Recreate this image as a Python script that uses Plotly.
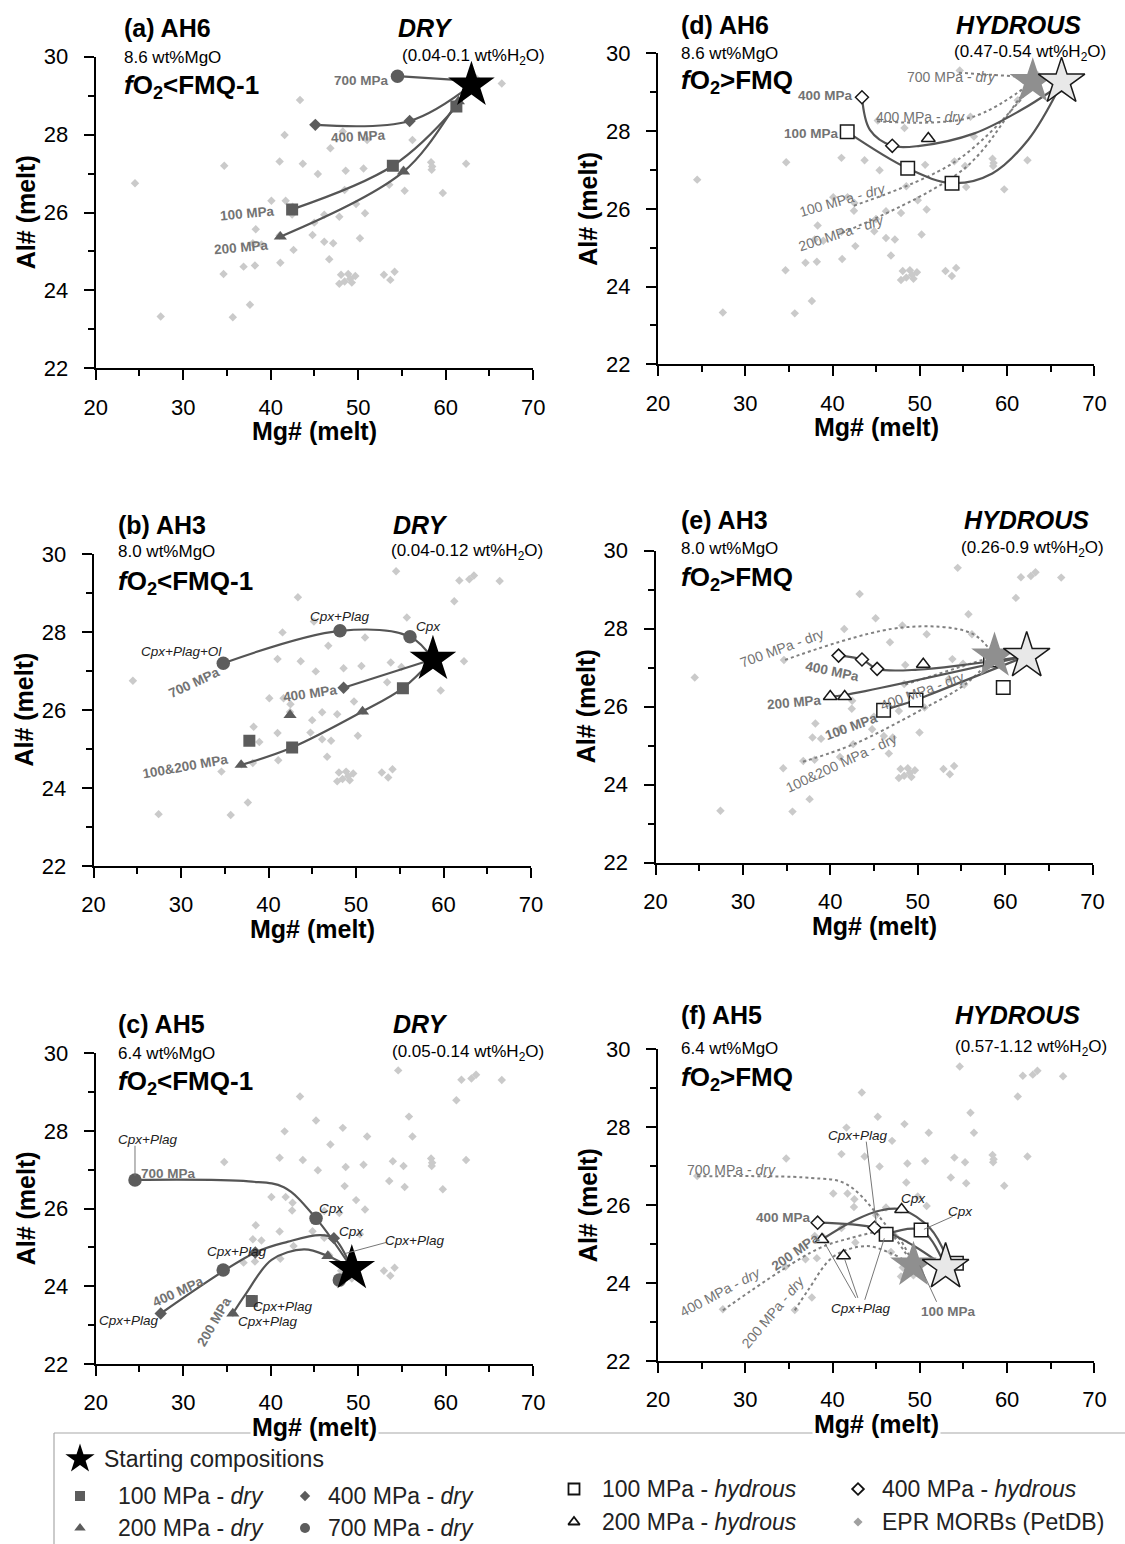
import plotly.graph_objects as go

W, H = 1125, 1544
FONT = "Liberation Sans, Arial, Helvetica, sans-serif"

# ---------------- data ----------------
MORB_X = [24.49, 27.43, 34.69, 34.61, 35.67, 36.90, 37.63, 38.20, 38.29, 37.96, 38.94, 40.08, 41.02, 41.59,
          41.71, 42.45, 42.50, 41.02, 42.61, 41.10, 43.35, 43.67, 45.18, 45.39, 44.98, 44.78, 46.12, 46.12,
          47.14, 46.69, 46.82, 48.24, 48.57, 48.45, 47.84, 49.76, 50.78, 50.20, 50.61, 51.02, 48.04, 48.86,
          49.67, 48.45, 49.27, 47.84, 49.10, 52.94, 53.67, 54.16, 53.55, 53.96, 55.31, 55.18, 56.20, 55.80,
          58.33, 58.45, 58.40, 59.67, 62.33, 61.22, 61.80, 62.94, 63.47, 66.41, 54.57]
MORB_Y = [26.75, 23.33, 27.20, 24.42, 23.31, 24.61, 23.63, 24.64, 25.57, 25.21, 25.18, 26.30, 27.31, 27.99,
          26.30, 25.95, 26.15, 25.41, 25.04, 24.71, 28.89, 27.25, 28.27, 26.99, 25.74, 25.42, 25.94, 25.25,
          25.21, 24.80, 27.65, 28.08, 27.07, 26.58, 25.89, 26.22, 25.98, 25.34, 27.13, 27.86, 24.40, 24.42,
          24.37, 24.23, 24.20, 24.17, 24.30, 24.40, 24.27, 24.48, 26.71, 27.22, 26.56, 27.10, 27.86, 28.37,
          27.29, 27.18, 27.10, 26.50, 27.25, 28.79, 29.32, 29.35, 29.45, 29.31, 29.56]

# starting compositions
AH6_DRY_STAR = [62.94, 29.27]
AH3_DRY_STAR = [58.78, 27.30]
AH5_DRY_STAR = [49.27, 24.46]
AH6_HYD_STAR = [66.24, 29.27]
AH3_HYD_STAR = [62.46, 27.30]
AH5_HYD_STAR = [52.95, 24.41]

# (a) AH6 dry
A100_X = [42.45, 53.96, 61.22]; A100_Y = [26.08, 27.20, 28.72]
A200_X = [41.10, 55.18, 61.45]; A200_Y = [25.38, 27.05, 28.85]
A400_X = [45.10, 55.88];        A400_Y = [28.25, 28.35]
A700_X = [54.49];               A700_Y = [29.50]
A_CURVES = [
    ([42.45, 53.96, 61.22, 62.94], [26.08, 27.20, 28.72, 29.27]),
    ([41.10, 55.18, 61.45, 62.94], [25.38, 27.05, 28.85, 29.27]),
    ([45.10, 55.88, 62.94], [28.25, 28.35, 29.27]),
    ([54.49, 62.94], [29.50, 29.38]),
]

# (b) AH3 dry
B100_X = [37.80, 42.69, 55.35]; B100_Y = [25.21, 25.04, 26.56]
B200_X = [36.86, 42.45, 50.73]; B200_Y = [24.59, 25.87, 25.96]
B400_X = [48.57];               B400_Y = [26.57]
B700_X = [34.82, 48.16, 56.16]; B700_Y = [27.20, 28.03, 27.88]
B_CURVES = [
    ([34.82, 48.16, 56.16, 58.78], [27.20, 28.03, 27.88, 27.30]),
    ([48.57, 58.78], [26.57, 27.30]),
    ([36.86, 42.69, 50.73, 55.35, 58.78], [24.59, 25.04, 25.96, 26.56, 27.30]),
]

# (c) AH5 dry
C100_X = [37.84];                      C100_Y = [23.62]
C200_X = [35.67, 46.53];               C200_Y = [23.30, 24.78]
C400_X = [27.43, 38.24, 47.22];        C400_Y = [23.30, 24.87, 25.24]
C700_X = [24.49, 45.18, 34.57, 47.84]; C700_Y = [26.74, 25.75, 24.42, 24.16]
C_CURVES = [
    ([24.49, 37.5, 41.5, 45.18, 49.27], [26.74, 26.70, 26.55, 25.75, 24.46]),
    ([27.43, 38.24, 42.0, 45.6, 47.22, 49.27], [23.30, 24.87, 25.15, 25.32, 25.24, 24.46]),
    ([35.67, 37.2, 40.1, 43.8, 46.53, 49.27], [23.30, 23.82, 24.68, 24.95, 24.78, 24.46]),
]

# (d) AH6 hydrous
D100_X = [41.68, 48.61, 53.69]; D100_Y = [27.98, 27.04, 26.66]
D200_X = [50.97];               D200_Y = [27.81]
D400_X = [43.37, 46.84];        D400_Y = [28.87, 27.62]
D_CURVES = [
    ([43.37, 44.28, 46.84, 50.0, 56.25, 61.6, 65.2], [28.87, 28.03, 27.62, 27.62, 27.94, 28.54, 29.05]),
    ([41.68, 48.61, 53.69, 58.3, 62.4, 65.95], [27.98, 27.04, 26.66, 26.91, 27.77, 29.10]),
]

# (e) AH3 hydrous
E100_X = [46.09, 49.80, 58.33, 59.78]; E100_Y = [25.91, 26.17, 27.20, 26.49]
E200_X = [39.99, 41.64, 50.63];        E200_Y = [26.26, 26.26, 27.09]
E400_X = [40.94, 43.62, 45.35];        E400_Y = [27.31, 27.21, 26.97]
E_CURVES = [
    ([40.94, 43.62, 45.35, 50.0, 62.46], [27.31, 27.21, 26.97, 26.95, 27.30]),
    ([39.99, 41.64, 62.46], [26.26, 26.30, 27.30]),
    ([46.09, 49.80, 52.15, 62.46], [25.91, 26.17, 26.38, 27.30]),
]

# (f) AH5 hydrous
F100_X = [46.14, 50.14, 54.19]; F100_Y = [25.25, 25.36, 24.51]
F200_X = [38.79, 47.91, 41.26]; F200_Y = [25.12, 25.89, 24.70]
F400_X = [38.29, 44.81];        F400_Y = [25.55, 25.42]
F_CURVES = [
    ([38.29, 44.81, 48.6, 52.95], [25.55, 25.42, 25.05, 24.41]),
    ([38.79, 42.6, 45.6, 47.91, 51.2, 53.0], [25.12, 25.62, 25.87, 25.89, 25.40, 24.70]),
    ([46.14, 50.14, 52.95], [25.25, 25.36, 24.41]),
]

X_TICKS = [20, 30, 40, 50, 60, 70]
Y_TICKS = [22, 24, 26, 28, 30]

# ---------------- styles ----------------
DARK = "#5c5c5c"
LINE = "#555555"
DOT = "#808080"
LBL = "#737373"
MORB_C = "#cacaca"

# pixel boxes: left, right, top, bottom
BOX = {
    1: (95.7, 533.2, 56.7, 368.3),
    2: (93.6, 531.1, 554.0, 866.0),
    3: (95.7, 533.2, 1053.3, 1364.0),
    4: (658.0, 1094.4, 53.3, 364.3),
    5: (655.5, 1092.6, 550.7, 862.7),
    6: (658.0, 1094.4, 1049.3, 1361.0),
}

fig = go.Figure()
ANN = []
SHAPES = []


def PX(x):
    return x / W


def PY(y):
    return 1 - y / H


def axn(i):
    return ("x" if i == 1 else f"x{i}"), ("y" if i == 1 else f"y{i}")


def curve(i, xs, ys, dash=None, color=LINE, width=2.2):
    xa, ya = axn(i)
    fig.add_trace(go.Scatter(x=xs, y=ys, mode="lines", xaxis=xa, yaxis=ya, hoverinfo="skip",
                             showlegend=False,
                             line=dict(shape="spline", smoothing=1.0, color=color, width=width,
                                       dash=dash)))


def pts(i, xs, ys, symbol, size, fill, lc=None, lw=0):
    xa, ya = axn(i)
    fig.add_trace(go.Scatter(x=xs, y=ys, mode="markers", xaxis=xa, yaxis=ya, hoverinfo="skip",
                             showlegend=False,
                             marker=dict(symbol=symbol, size=size, color=fill,
                                         line=dict(color=lc or fill, width=lw))))


def txt(xr, yr, x, y, s, size=13, color="black", xanchor="center", angle=0, bg=None, yanchor="middle"):
    d = dict(xref=xr, yref=yr, x=x, y=y, text=s, showarrow=False,
             font=dict(family=FONT, size=size, color=color), xanchor=xanchor, yanchor=yanchor,
             textangle=angle)
    if bg:
        d["bgcolor"] = bg
    ANN.append(d)


def lab(i, x, y, s, kind, angle=0, xanchor="center"):
    xa, ya = axn(i)
    if kind == "p":
        txt(xa, ya, x, y, "<b>" + s + "</b>", 13.5, LBL, xanchor, angle)
    elif kind == "m":
        txt(xa, ya, x, y, "<i>" + s + "</i>", 13.5, "#222222", xanchor, angle)
    else:
        txt(xa, ya, x, y, s, 14, LBL, xanchor, angle)


def leader(i, x0, y0, x1, y1):
    xa, ya = axn(i)
    SHAPES.append(dict(type="line", xref=xa, yref=ya, x0=x0, y0=y0, x1=x1, y1=y1,
                       line=dict(color="#777777", width=1)))


# MORBs in all panels
for i in range(1, 7):
    pts(i, MORB_X, MORB_Y, "diamond", 6.5, MORB_C)

# dotted dry reference curves in hydrous panels
for xs, ys in A_CURVES:
    curve(4, xs, ys, dash="dot", color=DOT, width=2)
for xs, ys in B_CURVES:
    curve(5, xs, ys, dash="dot", color=DOT, width=2)
for xs, ys in C_CURVES:
    curve(6, xs, ys, dash="dot", color=DOT, width=2)

# solid curves
for i, cs in ((1, A_CURVES), (2, B_CURVES), (3, C_CURVES), (4, D_CURVES), (5, E_CURVES), (6, F_CURVES)):
    for xs, ys in cs:
        curve(i, xs, ys)

# dry markers
for i, d in ((1, (A100_X, A100_Y, A200_X, A200_Y, A400_X, A400_Y, A700_X, A700_Y)),
             (2, (B100_X, B100_Y, B200_X, B200_Y, B400_X, B400_Y, B700_X, B700_Y)),
             (3, (C100_X, C100_Y, C200_X, C200_Y, C400_X, C400_Y, C700_X, C700_Y))):
    pts(i, d[0], d[1], "square", 12, DARK)
    pts(i, d[2], d[3], "triangle-up", 11.5, DARK)
    pts(i, d[4], d[5], "diamond", 9.5, DARK)
    pts(i, d[6], d[7], "circle", 13.5, DARK)

# hydrous markers
for i, d in ((4, (D100_X, D100_Y, D200_X, D200_Y, D400_X, D400_Y)),
             (5, (E100_X, E100_Y, E200_X, E200_Y, E400_X, E400_Y)),
             (6, (F100_X, F100_Y, F200_X, F200_Y, F400_X, F400_Y))):
    pts(i, d[0], d[1], "square", 13.5, "white", "#1a1a1a", 1.5)
    pts(i, d[2], d[3], "triangle-up", 12, "white", "#1a1a1a", 1.5)
    pts(i, d[4], d[5], "diamond", 10, "white", "#1a1a1a", 1.5)

# stars
for i, s in ((1, AH6_DRY_STAR), (2, AH3_DRY_STAR), (3, AH5_DRY_STAR)):
    pts(i, [s[0]], [s[1]], "star", 35, "black")
for i, s, h in ((4, AH6_DRY_STAR, AH6_HYD_STAR), (5, AH3_DRY_STAR, AH3_HYD_STAR), (6, AH5_DRY_STAR, AH5_HYD_STAR)):
    pts(i, [s[0]], [s[1]], "star", 35, "#8f8f8f")
    pts(i, [h[0]], [h[1]], "star", 35, "#e8e8e8", "#1a1a1a", 1.5)

# ---------------- in-plot labels ----------------
# (a)
lab(1, 50.33, 29.40, "700 MPa", "p")
lab(1, 50.08, 27.94, "400 MPa", "p", -3)
lab(1, 37.35, 25.98, "100 MPa", "p", -5)
lab(1, 36.62, 25.09, "200 MPa", "p", -5)
# (b)
lab(2, 30.04, 27.50, "Cpx+Plag+Ol", "m")
lab(2, 48.08, 28.39, "Cpx+Plag", "m")
lab(2, 58.29, 28.15, "Cpx", "m")
lab(2, 31.55, 26.70, "700 MPa", "p", -25)
lab(2, 44.82, 26.43, "400 MPa", "p", -8)
lab(2, 30.53, 24.55, "100&amp;200 MPa", "p", -10)
# (c)
lab(3, 25.9, 27.79, "Cpx+Plag", "m")
lab(3, 28.33, 26.91, "700 MPa", "p")
lab(3, 47.0, 26.0, "Cpx", "m")
lab(3, 49.27, 25.42, "Cpx", "m")
lab(3, 56.41, 25.18, "Cpx+Plag", "m")
lab(3, 36.08, 24.89, "Cpx+Plag", "m")
lab(3, 29.47, 23.86, "400 MPa", "p", -25)
lab(3, 23.76, 23.13, "Cpx+Plag", "m")
lab(3, 33.55, 23.09, "200 MPa", "p", -60)
lab(3, 41.39, 23.49, "Cpx+Plag", "m")
lab(3, 39.59, 23.09, "Cpx+Plag", "m")
leader(3, 24.49, 27.62, 24.49, 26.85)
leader(3, 53.2, 25.13, 48.6, 24.85)
# (d)
lab(4, 42.6, 28.92, "400 MPa", "p", 0, "right")
lab(4, 41.0, 27.93, "100 MPa", "p", 0, "right")
lab(4, 53.57, 29.38, "700 MPa - <i>dry</i>", "d")
lab(4, 50.06, 28.35, "400 MPa - <i>dry</i>", "d")
lab(4, 41.1, 26.23, "100 MPa - <i>dry</i>", "d", -16)
lab(4, 40.97, 25.37, "200 MPa - <i>dry</i>", "d", -18)
# (e)
lab(5, 34.43, 27.5, "700 MPa - dry", "d", -20)
lab(5, 50.5, 26.41, "400 MPa - dry", "d", -20)
lab(5, 41.23, 24.55, "100&amp;200 MPa - dry", "d", -25)
lab(5, 40.28, 26.9, "400 MPa", "p", 12)
lab(5, 35.87, 26.10, "200 MPa", "p", -5)
lab(5, 42.46, 25.49, "100 MPa", "p", -20)
# (f)
lab(6, 42.83, 27.80, "Cpx+Plag", "m")
lab(6, 43.25, 23.35, "Cpx+Plag", "m")
lab(6, 49.23, 26.16, "Cpx", "m")
lab(6, 54.68, 25.83, "Cpx", "m")
lab(6, 34.37, 25.69, "400 MPa", "p")
lab(6, 35.81, 24.81, "200 MPa", "p", -35)
lab(6, 53.28, 23.28, "100 MPa", "p")
lab(6, 28.38, 26.89, "700 MPa - <i>dry</i>", "d")
lab(6, 27.14, 23.76, "400 MPa - <i>dry</i>", "d", -28)
lab(6, 33.13, 23.27, "200 MPa - <i>dry</i>", "d", -50)
leader(6, 43.86, 27.63, 45.02, 25.50)
leader(6, 42.66, 23.62, 39.12, 25.02)
leader(6, 42.9, 23.62, 41.39, 24.61)
leader(6, 43.69, 23.57, 45.93, 25.15)
leader(6, 53.77, 25.71, 50.47, 25.38)
leader(6, 51.92, 23.52, 50.0, 24.45)

# ---------------- headers ----------------
HEAD = {
    1: ("(a) AH6", "8.6 wt%MgO", "&lt;FMQ-1", "DRY", "(0.04-0.1 wt%H<sub>2</sub>O)",
        122, 28, 57, 87, 425.7, 473.2),
    2: ("(b) AH3", "8.0 wt%MgO", "&lt;FMQ-1", "DRY", "(0.04-0.12 wt%H<sub>2</sub>O)",
        116, 525, 552, 582, 420.4, 466.8),
    3: ("(c) AH5", "6.4 wt%MgO", "&lt;FMQ-1", "DRY", "(0.05-0.14 wt%H<sub>2</sub>O)",
        116, 1024, 1053, 1082, 420.4, 467.9),
    4: ("(d) AH6", "8.6 wt%MgO", "&gt;FMQ", "HYDROUS", "(0.47-0.54 wt%H<sub>2</sub>O)",
        679, 25, 53, 82, 1018.6, 1030.3),
    5: ("(e) AH3", "8.0 wt%MgO", "&gt;FMQ", "HYDROUS", "(0.26-0.9 wt%H<sub>2</sub>O)",
        679, 520, 549, 578, 1026.7, 1032.8),
    6: ("(f) AH5", "6.4 wt%MgO", "&gt;FMQ", "HYDROUS", "(0.57-1.12 wt%H<sub>2</sub>O)",
        679, 1015, 1048, 1078, 1017.7, 1031.0),
}

for i, (nm, mgo, fo2, cond, water, lx, yn, ym, yf, cx, cxw) in HEAD.items():
    txt("paper", "paper", PX(lx), PY(yn), "<b>" + nm + "</b>", 25, "black", "left")
    txt("paper", "paper", PX(lx), PY(ym), mgo, 17, "black", "left")
    txt("paper", "paper", PX(lx), PY(yf), "<b><i>f</i>O<sub>2</sub>" + fo2 + "</b>", 26, "black", "left")
    txt("paper", "paper", PX(cx), PY(yn), "<b><i>" + cond + "</i></b>", 25, "black", "center")
    txt("paper", "paper", PX(cxw), PY(ym), water, 17, "black", "center")
    l, r, t, b = BOX[i]
    txt("paper", "paper", PX((l + r) / 2), PY(b + 63), "<b>Mg# (melt)</b>", 25, "black", "center",
        bg="white" if i in (3, 6) else None)
    txt("paper", "paper", PX(l - 70), PY((t + b) / 2), "<b>Al# (melt)</b>", 25, "black", "center", angle=-90)

# ---------------- legend ----------------
LEG_TOP = 1433
SHAPES.append(dict(type="line", xref="paper", yref="paper", x0=PX(54), x1=1, y0=PY(LEG_TOP), y1=PY(LEG_TOP),
                   line=dict(color="#a8a8a8", width=1.2), layer="below"))
SHAPES.append(dict(type="line", xref="paper", yref="paper", x0=PX(54), x1=PX(54), y0=PY(LEG_TOP), y1=0,
                   line=dict(color="#a8a8a8", width=1.2), layer="below"))

LEG = [
    ("star", 22, "black", None, 80, 1459, 102, "Starting compositions"),
    ("square", 10, DARK, None, 80, 1496, 116, "100 MPa - <i>dry</i>"),
    ("diamond", 8, DARK, None, 305, 1496, 326, "400 MPa - <i>dry</i>"),
    ("triangle-up", 10, DARK, None, 80, 1528, 116, "200 MPa - <i>dry</i>"),
    ("circle", 10, DARK, None, 305, 1528, 326, "700 MPa - <i>dry</i>"),
    ("square", 11, "white", "#111111", 574, 1489, 600, "100 MPa - <i>hydrous</i>"),
    ("triangle-up", 10, "white", "#111111", 574, 1522, 600, "200 MPa - <i>hydrous</i>"),
    ("diamond", 9, "white", "#111111", 858, 1489, 880, "400 MPa - <i>hydrous</i>"),
    ("diamond", 7, "#a0a0a0", None, 858, 1522, 880, "EPR MORBs (PetDB)"),
]
for sym, sz, fill, lc, mx, my, tx, label in LEG:
    fig.add_trace(go.Scatter(x=[mx], y=[my], mode="markers", xaxis="x7", yaxis="y7", hoverinfo="skip",
                             showlegend=False,
                             marker=dict(symbol=sym, size=sz, color=fill,
                                         line=dict(color=lc or fill, width=1.8 if lc else 0))))
    txt("x7", "y7", tx, my, label, 23, "#222222", "left")

# ---------------- layout ----------------
layout = dict(width=W, height=H, margin=dict(l=0, r=0, t=0, b=0), paper_bgcolor="white",
              plot_bgcolor="white", showlegend=False, annotations=ANN, shapes=SHAPES,
              font=dict(family=FONT))

for i in range(1, 7):
    l, r, t, b = BOX[i]
    xk = "xaxis" if i == 1 else f"xaxis{i}"
    yk = "yaxis" if i == 1 else f"yaxis{i}"
    ya = "y" if i == 1 else f"y{i}"
    xa = "x" if i == 1 else f"x{i}"
    common = dict(showline=True, linecolor="black", linewidth=2, ticks="outside", ticklen=10, tickwidth=2,
                  tickcolor="black", showgrid=False, zeroline=False, fixedrange=True, automargin=False,
                  tickfont=dict(family=FONT, size=22, color="black"))
    layout[xk] = dict(common, domain=[PX(l), PX(r)], range=[20, 70], tickvals=X_TICKS, anchor=ya,
                      ticklabelstandoff=8,
                      minor=dict(tickvals=[25, 35, 45, 55, 65], ticks="outside", ticklen=6, tickwidth=2,
                                 tickcolor="black"))
    layout[yk] = dict(common, domain=[PY(b), PY(t)], range=[22, 30], tickvals=Y_TICKS, anchor=xa,
                      ticklabelstandoff=11,
                      minor=dict(tickvals=[23, 25, 27, 29], ticks="outside", ticklen=6, tickwidth=2,
                                 tickcolor="black"))

layout["xaxis7"] = dict(domain=[0, 1], range=[0, W], visible=False, anchor="y7", fixedrange=True)
layout["yaxis7"] = dict(domain=[0, PY(1425)], range=[H, 1425], visible=False, anchor="x7", fixedrange=True)

fig.update_layout(**layout)
fig.write_html("out.html")
